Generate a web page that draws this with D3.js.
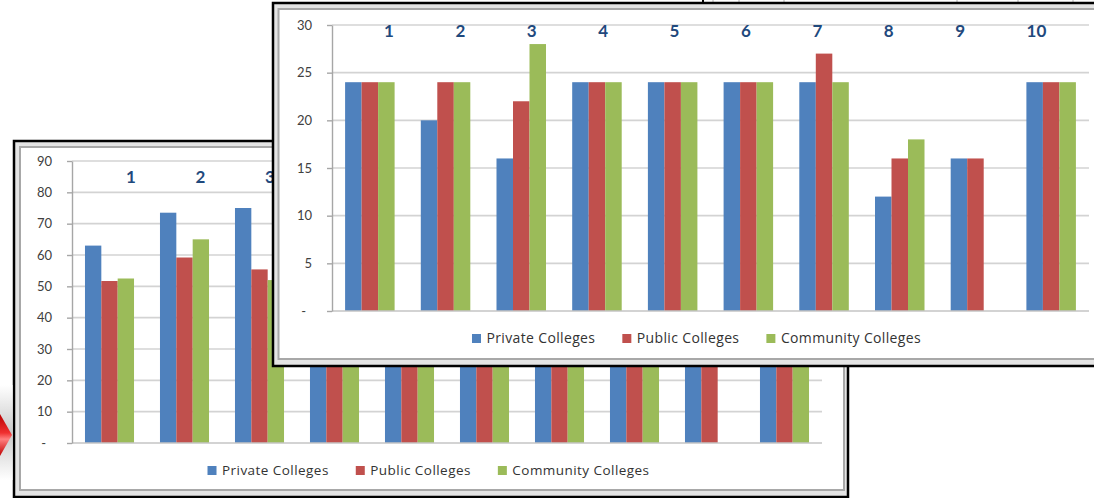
<!DOCTYPE html>
<html>
<head>
<meta charset="utf-8">
<script src="https://cdn.jsdelivr.net/npm/d3@7"></script>
<style>
  html, body { margin: 0; padding: 0; background: #ffffff; }
  svg { display: block; }
  text { font-family: Lato, "Open Sans", "DejaVu Sans", sans-serif; }
  .legend text { font-family: "Open Sans", Lato, sans-serif; }
</style>
</head>
<body>
<svg id="chart" width="1094" height="498"></svg>
<script>
// ---- data ---------------------------------------------------------------
const categories = ["1", "2", "3", "4", "5", "6", "7", "8", "9", "10"];
const seriesNames = ["Private Colleges", "Public Colleges", "Community Colleges"];
const seriesColors = ["#4F81BD", "#C0504D", "#9BBB59"];

// rear sheet (scale 0–90)
const rearPrivate   = [63, 73.5, 75, 68, 70, 72, 66, 60, 58, 70];
const rearPublic    = [51.7, 59.2, 55.4, 57, 60, 58, 62, 54, 52, 60];
const rearCommunity = [52.5, 65, 52, 60, 62, 61, 58, 56, null, 62];
const rearTicks     = [0, 10, 20, 30, 40, 50, 60, 70, 80, 90];

// front sheet (scale 0–30)
const frontPrivate   = [24, 20, 16, 24, 24, 24, 24, 12, 16, 24];
const frontPublic    = [24, 24, 22, 24, 24, 24, 27, 16, 16, 24];
const frontCommunity = [24, 24, 28, 24, 24, 24, 24, 18, null, 24];
const frontTicks     = [0, 5, 10, 15, 20, 25, 30];

// ---- drawing --------------------------------------------------------------
const svg = d3.select("#chart");

// faint spreadsheet cell borders peeking above the front sheet
const cellEdges = [703, 713, 739, 784, 957, 1018, 1073];
svg.append("g").selectAll("line").data(cellEdges).join("line")
  .attr("x1", d => d).attr("x2", d => d).attr("y1", 0).attr("y2", 2.5)
  .attr("stroke", (d, i) => (i === 0 ? "#000" : "#b0b0b0"))
  .attr("stroke-width", (d, i) => (i === 0 ? 2 : 1));

function drawSheet(cfg) {
  const g = svg.append("g");

  // sheet frame: black edge, grey bevel, white face
  g.append("rect")
    .attr("x", cfg.frame.x).attr("y", cfg.frame.y)
    .attr("width", cfg.frame.w).attr("height", cfg.frame.h)
    .attr("fill", "#e4e4e4").attr("stroke", "#000").attr("stroke-width", 2.5);
  g.append("rect")
    .attr("x", cfg.face.x).attr("y", cfg.face.y)
    .attr("width", cfg.face.w).attr("height", cfg.face.h)
    .attr("fill", "#fff").attr("stroke", "#a8a8a8").attr("stroke-width", 2);

  const x0 = d3.scaleBand().domain(categories)
    .range([cfg.plot.left, cfg.plot.right])
    .paddingInner(0.346).paddingOuter(0.173);
  const x1 = d3.scaleBand().domain(d3.range(seriesNames.length))
    .range([0, x0.bandwidth()]).padding(0);
  const y = d3.scaleLinear().domain([0, cfg.max])
    .range([cfg.plot.bottom, cfg.plot.top]);

  // horizontal gridlines
  g.append("g").selectAll("line").data(cfg.ticks.filter(t => t > 0)).join("line")
    .attr("x1", cfg.plot.left).attr("x2", cfg.plot.right)
    .attr("y1", d => y(d)).attr("y2", d => y(d))
    .attr("stroke", "#d3d3d3").attr("stroke-width", 1.6);

  // bars
  const rows = categories.map((c, i) => ({
    cat: c,
    vals: cfg.series.map(s => s[i])
  }));
  g.append("g").selectAll("g").data(rows).join("g")
    .attr("transform", d => `translate(${x0(d.cat)},0)`)
    .selectAll("rect")
    .data(d => d.vals.map((v, k) => ({ v, k })).filter(e => e.v != null))
    .join("rect")
    .attr("x", e => x1(e.k))
    .attr("width", x1.bandwidth())
    .attr("y", e => y(e.v))
    .attr("height", e => y(0) - y(e.v))
    .attr("fill", e => seriesColors[e.k]);

  // baseline across the plot
  g.append("line")
    .attr("x1", cfg.plot.left).attr("x2", cfg.plot.right)
    .attr("y1", y(0)).attr("y2", y(0))
    .attr("stroke", "#c4c4c4").attr("stroke-width", 1.6);

  // value axis
  const axis = d3.axisLeft(y).tickValues(cfg.ticks)
    .tickSize(5).tickSizeOuter(0).tickPadding(15)
    .tickFormat(d => (d === 0 ? "-" : d));
  const ag = g.append("g")
    .attr("transform", `translate(${cfg.plot.left},0)`)
    .call(axis);
  ag.select(".domain").attr("stroke", "#a6a6a6").attr("stroke-width", 1.4);
  ag.selectAll(".tick line").attr("stroke", "#a6a6a6").attr("stroke-width", 1.4);
  ag.selectAll(".tick text")
    .attr("fill", "#404040").style("font-size", "13px")
    .attr("dx", d => (d === 0 ? -6 : 0));

  // category numbers across the top of the plot
  const lx = d3.scalePoint().domain(categories)
    .range([cfg.labels.start, cfg.labels.start + cfg.labels.step * (categories.length - 1)]);
  g.append("g").selectAll("text").data(categories).join("text")
    .attr("x", d => lx(d)).attr("y", cfg.labels.y)
    .attr("text-anchor", "start")
    .attr("fill", "#1F497D").style("font-size", "17px").style("font-weight", "700")
    .text(d => d);

  // legend, centred on cfg.legend.cx
  const lg = g.append("g").attr("class", "legend");
  const items = lg.selectAll("g").data(seriesNames).join("g");
  items.append("rect").attr("width", 9).attr("height", 9)
    .attr("y", cfg.legend.cy - 4.5)
    .attr("fill", (d, i) => seriesColors[i]);
  items.append("text").attr("x", 14.5).attr("y", cfg.legend.cy + 4.8)
    .attr("fill", "#333")
    .style("font-size", cfg.legend.size + "px")
    .style("letter-spacing", cfg.legend.spacing + "px")
    .text(d => d);
  let pos = 0;
  const offs = [];
  items.each(function () {
    const w = this.querySelector("text").getComputedTextLength();
    offs.push(pos);
    pos += 14.5 + w + 27;
  });
  const total = pos - 27;
  const start = cfg.legend.cx - total / 2;
  items.attr("transform", (d, i) => `translate(${start + offs[i]},0)`);

  return g;
}

// rear sheet
drawSheet({
  frame: { x: 14, y: 141, w: 834, h: 356 },
  face:  { x: 20, y: 147, w: 824, h: 343 },
  plot:  { left: 72, right: 822, top: 161, bottom: 443 },
  max: 90,
  ticks: rearTicks,
  series: [rearPrivate, rearPublic, rearCommunity],
  labels: { start: 126, step: 69.5, y: 183 },
  legend: { cx: 428.5, cy: 470.5, size: 13.5, spacing: 0.45 }
});

// red pointer arrow at the left edge with its soft shadow
const defs = svg.append("defs");
const shade = defs.append("linearGradient").attr("id", "shade")
  .attr("x1", 0).attr("x2", 0).attr("y1", 0).attr("y2", 1);
shade.append("stop").attr("offset", 0).attr("stop-color", "#ffffff");
shade.append("stop").attr("offset", 0.5).attr("stop-color", "#c9c9c9");
shade.append("stop").attr("offset", 1).attr("stop-color", "#ffffff");
const redGrad = defs.append("linearGradient").attr("id", "redArrow")
  .attr("x1", 0).attr("x2", 0).attr("y1", 0).attr("y2", 1);
redGrad.append("stop").attr("offset", 0).attr("stop-color", "#b80000");
redGrad.append("stop").attr("offset", 0.45).attr("stop-color", "#f03030");
redGrad.append("stop").attr("offset", 0.6).attr("stop-color", "#ff8080");
redGrad.append("stop").attr("offset", 1).attr("stop-color", "#c00000");
svg.append("rect").attr("x", 0).attr("y", 385).attr("width", 12.5).attr("height", 95)
  .attr("fill", "url(#shade)");
svg.append("path")
  .attr("d", "M0,414 L12,435 L0,456 Z")
  .attr("fill", "url(#redArrow)");

// front sheet
drawSheet({
  frame: { x: 273, y: 3, w: 840, h: 363 },
  face:  { x: 278.5, y: 9, w: 830, h: 350 },
  plot:  { left: 332, right: 1089, top: 25, bottom: 311 },
  max: 30,
  ticks: frontTicks,
  series: [frontPrivate, frontPublic, frontCommunity],
  labels: { start: 384, step: 71.4, y: 37 },
  legend: { cx: 696.5, cy: 338.5, size: 14, spacing: 0.35 }
});
</script>
</body>
</html>
